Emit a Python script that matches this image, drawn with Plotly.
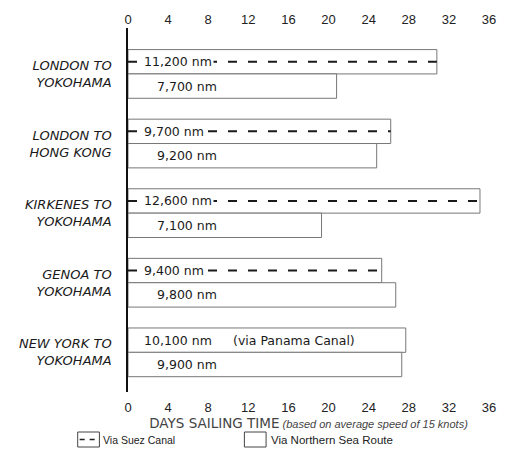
import plotly.graph_objects as go

# ---- data (days sailing time) ----
routes = ["LONDON TO<br>YOKOHAMA", "LONDON TO<br>HONG KONG", "KIRKENES TO<br>YOKOHAMA",
          "GENOA TO<br>YOKOHAMA", "NEW YORK TO<br>YOKOHAMA"]
upper_days = [30.8, 26.2, 35.1, 25.3, 27.7]          # via Suez (NY: via Panama)
upper_nm = ["11,200 nm", "9,700 nm", "12,600 nm", "9,400 nm", "10,100 nm"]
upper_is_suez = [True, True, True, True, False]
nsr_days = [20.8, 24.8, 19.3, 26.7, 27.3]             # via Northern Sea Route
nsr_nm = ["7,700 nm", "9,200 nm", "7,100 nm", "9,800 nm", "9,900 nm"]
x_ticks = [0, 4, 8, 12, 16, 20, 24, 28, 32, 36]

W, H = 508, 469
L, R, T, B = 128, 14, 28, 77
PW, PH = W - L - R, H - T - B

def px(x):
    return (x - L) / PW

def py(y):
    return (H - B - y) / PH

BAR_W = 0.35
idx = list(range(len(routes)))
upper_y = [i - BAR_W / 2 for i in idx]
lower_y = [i + BAR_W / 2 for i in idx]

fig = go.Figure()
outline = dict(color="#777777", width=1)
fig.add_trace(go.Bar(x=upper_days, y=upper_y, orientation="h", width=BAR_W,
                     marker=dict(color="white", line=outline), showlegend=False, hoverinfo="skip"))
fig.add_trace(go.Bar(x=nsr_days, y=lower_y, orientation="h", width=BAR_W,
                     marker=dict(color="white", line=outline), showlegend=False, hoverinfo="skip"))

# dashed lines inside Suez bars
dx, dy = [], []
for d, y, s in zip(upper_days, upper_y, upper_is_suez):
    if s:
        dx += [0, d, None]
        dy += [y, y, None]
fig.add_trace(go.Scatter(x=dx, y=dy, mode="lines",
                         line=dict(color="#1a1a1a", width=2, dash="9px,11px"),
                         showlegend=False, hoverinfo="skip"))
# invisible trace for top axis
fig.add_trace(go.Scatter(x=[0, 36], y=[0, 0], xaxis="x2", mode="markers",
                         marker=dict(opacity=0), showlegend=False, hoverinfo="skip"))

label_font = dict(family="DejaVu Sans", size=12.5, color="#1a1a1a")
annotations = []
for t, y in zip(upper_nm, upper_y):
    annotations.append(dict(x=1.4, y=y, xref="x", yref="y", text=t, showarrow=False,
                            xanchor="left", yanchor="middle", bgcolor="white",
                            borderpad=1, font=label_font))
for t, y in zip(nsr_nm, lower_y):
    annotations.append(dict(x=2.7, y=y, xref="x", yref="y", text=t, showarrow=False,
                            xanchor="left", yanchor="middle", font=label_font))
annotations.append(dict(x=10.3, y=upper_y[4], xref="x", yref="y", text="(via Panama Canal)",
                        showarrow=False, xanchor="left", yanchor="middle", font=label_font))

# legend (drawn manually)
annotations.append(dict(x=px(101), y=py(440), xref="paper", yref="paper", text="Via Suez Canal",
                        showarrow=False, xanchor="left", yanchor="middle",
                        font=dict(family="Liberation Sans", size=10.5, color="#222")))
annotations.append(dict(x=px(271), y=py(440), xref="paper", yref="paper", text="Via Northern Sea Route",
                        showarrow=False, xanchor="left", yanchor="middle",
                        font=dict(family="Liberation Sans", size=11.5, color="#222")))
shapes = [
    dict(type="rect", xref="paper", yref="paper", x0=px(77), x1=px(99), y0=py(447), y1=py(432),
         line=dict(color="#444", width=1)),
    dict(type="line", xref="paper", yref="paper", x0=px(79), x1=px(97), y0=py(439.5), y1=py(439.5),
         line=dict(color="#222", width=1.5, dash="5px,5px")),
    dict(type="rect", xref="paper", yref="paper", x0=px(246), x1=px(268), y0=py(447), y1=py(432),
         line=dict(color="#444", width=1)),
]

tick_font = dict(family="Liberation Sans", size=13, color="#222")
fig.update_layout(
    width=W, height=H, margin=dict(l=L, r=R, t=T, b=B),
    paper_bgcolor="white", plot_bgcolor="white", barmode="overlay",
    annotations=annotations, shapes=shapes,
    xaxis=dict(range=[0, 36], tickvals=x_ticks, ticks="", showgrid=False, zeroline=False,
               showline=False, tickfont=tick_font, ticklabelstandoff=6,
               title=dict(text="<span style='font-family:DejaVu Sans;font-size:13.5px'>DAYS SAILING TIME</span> "
                               "<i>(based on average speed of 15 knots)</i>",
                          font=dict(family="Liberation Sans", size=11, color="#444"), standoff=4)),
    xaxis2=dict(range=[0, 36], tickvals=x_ticks, ticks="", overlaying="x", side="top",
                matches="x", showgrid=False, zeroline=False, showline=False,
                tickfont=tick_font, ticklabelstandoff=0),
    yaxis=dict(range=[4.57, -0.66], tickvals=idx, ticktext=routes, ticks="", showgrid=False,
               zeroline=False, showline=True, linecolor="#111", linewidth=1.5,
               tickfont=dict(family="DejaVu Sans", size=13, color="#1a1a1a", style="italic"),
               ticklabelstandoff=12),
)
fig.write_html("out.html", config={"displayModeBar": False},
               post_script="document.body.style.margin='0';")
